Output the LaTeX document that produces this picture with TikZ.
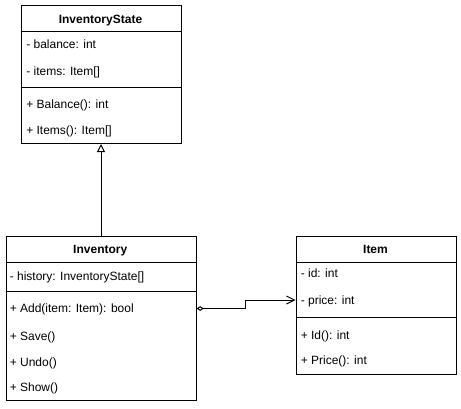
\documentclass[tikz,border=0pt]{standalone}
\usepackage{fontspec}
\setmainfont{Liberation Sans}
\usetikzlibrary{arrows.meta}
\begin{document}
\begin{tikzpicture}[x=0.75pt,y=-0.75pt,
  box/.style={draw,line width=0.75pt,rectangle,anchor=north west,inner sep=0},
  row/.style={anchor=west,inner sep=0,text height=6.5pt,text depth=0pt,font=\fontsize{9}{11}\selectfont},
  head/.style={inner sep=0,text height=6.5pt,text depth=0pt,font=\bfseries\fontsize{9}{11}\selectfont},
  sepline/.style={line width=0.75pt},
  conn/.style={line width=0.75pt}]
\useasboundingbox (0,0) rectangle (461,408);
% InventoryState
\node[box,minimum width=120pt,minimum height=103.5pt] (is) at (20.5,5) {};
\node[head] (ishead) at (100.5,19) {InventoryState};
\draw[sepline] (is.west |- 0,31.5) -- (is.east |- 0,31.5);
\draw[sepline] (is.west |- 0,87.5) -- (is.east |- 0,87.5);
\node[row] (isbal) at (26,44.3) {- balance: int};
\node[row] (isitems) at (26,71) {- items: Item[]};
\node[row] (isBal) at (26,104.5) {+ Balance(): int};
\node[row] (isItems) at (26,130.5) {+ Items(): Item[]};
% Inventory
\node[box,minimum width=142.5pt,minimum height=123pt] (inv) at (5.5,235.5) {};
\node[head] (invhead) at (100.25,249.3) {Inventory};
\draw[sepline] (inv.west |- 0,262) -- (inv.east |- 0,262);
\draw[sepline] (inv.west |- 0,291) -- (inv.east |- 0,291);
\node[row] (invhist) at (9.5,275.7) {- history: InventoryState[]};
\node[row] (invadd) at (9.5,308.5) {+ Add(item: Item): bool};
\node[row] (invsave) at (9.5,335.7) {+ Save()};
\node[row] (invundo) at (9.5,361.7) {+ Undo()};
\node[row] (invshow) at (9.5,386.7) {+ Show()};
% Item
\node[box,minimum width=120pt,minimum height=103.5pt] (item) at (295.5,235.5) {};
\node[head] (itemhead) at (375.5,249.3) {Item};
\draw[sepline] (item.west |- 0,262) -- (item.east |- 0,262);
\draw[sepline] (item.west |- 0,317.5) -- (item.east |- 0,317.5);
\node[row] (itemid) at (300.5,273.3) {- id: int};
\node[row] (itemprice) at (300.5,300) {- price: int};
\node[row] (itemId) at (300.5,335) {+ Id(): int};
\node[row] (itemPrice) at (300.5,360) {+ Price(): int};
% connectors
\draw[conn,-{Triangle[open,length=6pt,width=6pt]}] (inv.north) -- (is.south);
\coordinate (bend) at (245,304);
\draw[conn,{Diamond[open,length=5.5pt,width=3.5pt]}-{Straight Barb[length=6pt,width=6pt]}]
  (invadd -| inv.east) -- (invadd -| bend) |- (itemprice -| item.west);
\end{tikzpicture}
\end{document}
